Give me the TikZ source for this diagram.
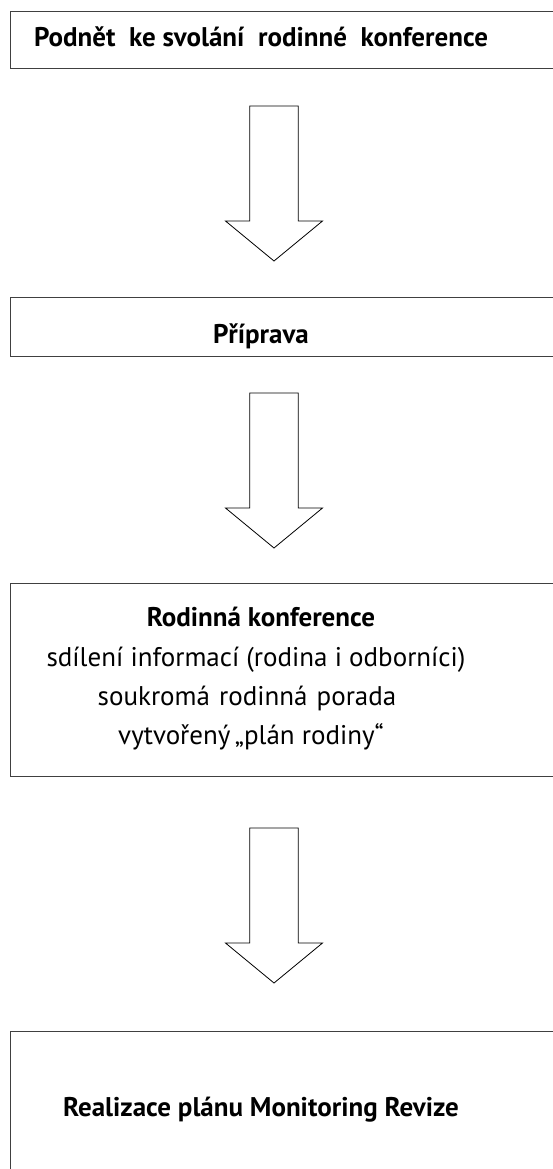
\documentclass[tikz,border=0pt]{standalone}
\usepackage{fontspec}
\setmainfont{PT Sans}
\begin{document}
\begin{tikzpicture}[x=1pt,y=-1pt,
  box/.style={draw=black!75,line width=1pt,anchor=north west,inner sep=0pt,minimum width=560pt},
  lbl/.style={anchor=base,inner sep=0pt,font=\fontsize{27}{32}\selectfont},
  blbl/.style={lbl,font=\fontsize{27}{32}\selectfont\bfseries},
  downarrow/.pic={\draw[line width=0.8pt,line join=miter,fill=white] (-24.3,0) -- (24.3,0) -- (24.3,115) -- (48.5,115) -- (0,155) -- (-48.5,115) -- (-24.3,115) -- cycle;}]
\useasboundingbox (0,0) rectangle (553,1169);
\node[box,minimum height=57pt] (b1) at (10,11) {};
\node[box,minimum height=59pt] (b2) at (10,297) {};
\node[box,minimum height=193pt] (b3) at (10,583) {};
\node[box,minimum height=200pt] (b4) at (10,1031) {};
\node[blbl] (t1) at (261,47) {Podnět\ \ ke svolání\ \ rodinné\ \ konference};
\node[blbl] (t2) at (261,343) {Příprava};
\node[blbl] (t3a) at (261,626) {Rodinná konference};
\node[lbl] (t3b) at (256,666) {sdílení informací (rodina i odborníci)};
\node[lbl] (t3c) at (247,705) {soukromá\hspace{2pt} rodinná\hspace{2pt} porada};
\node[lbl] (t3d) at (251,744) {vytvořený\,„plán rodiny“};
\node[blbl] (t4) at (261,1116) {Realizace plánu Monitoring Revize};
\pic at (274,106) {downarrow};
\pic at (274,393) {downarrow};
\pic at (274,828) {downarrow};
\end{tikzpicture}
\end{document}
